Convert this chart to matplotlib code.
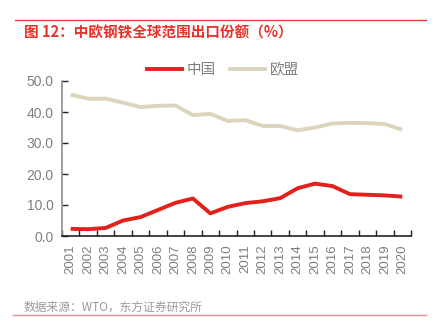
import matplotlib.pyplot as plt
from matplotlib.lines import Line2D

plt.rcParams['font.family'] = ['Noto Sans CJK SC', 'DejaVu Sans']

YEARS = [str(y) for y in range(2001, 2021)]
CHINA = [2.3, 2.2, 2.6, 5.0, 6.1, 8.4, 10.7, 12.1, 7.3, 9.4,
         10.6, 11.2, 12.2, 15.4, 16.9, 16.1, 13.5, 13.3, 13.1, 12.7]
EU = [45.6, 44.3, 44.3, 43.0, 41.6, 42.0, 42.1, 39.0, 39.4, 37.1,
      37.4, 35.5, 35.5, 34.1, 35.0, 36.3, 36.5, 36.4, 36.1, 34.3]
SERIES_NAMES = ["中国", "欧盟"]

RED = "#E3211C"
BEIGE = "#DDD4BE"
GREY = "#7F7F7F"

fig = plt.figure(figsize=(4.34, 3.36), dpi=100)
ax = fig.add_axes([62 / 434, 100 / 336, 349 / 434, 155 / 336])

x = range(len(YEARS))
ax.plot(x, CHINA, color=RED, linewidth=2.8, solid_capstyle="butt")
ax.plot(x, EU, color=BEIGE, linewidth=2.8, solid_capstyle="butt")

ax.set_xlim(-0.5, len(YEARS) - 0.5)
ax.set_ylim(0, 50)
ax.set_yticks([0, 10, 20, 30, 40, 50])
ax.set_yticklabels([f"{v:.1f}" for v in [0, 10, 20, 30, 40, 50]],
                   fontsize=10, color=GREY, family="Liberation Sans")
ax.set_xticks(list(x))
ax.set_xticklabels(YEARS, rotation=90, fontsize=9.5, color=GREY,
                   family="Liberation Sans")
ax.tick_params(axis="x", which="major", length=0, pad=6)
ax.set_xticks([i - 0.5 for i in range(len(YEARS) + 1)], minor=True)
ax.tick_params(axis="x", which="minor", direction="in", length=4,
               width=1, color="#222222")
ax.tick_params(axis="y", direction="in", length=4, width=1,
               color="#222222", pad=6)

for s in ["top", "right"]:
    ax.spines[s].set_visible(False)
ax.spines["left"].set_color("#8C8C8C")
ax.spines["left"].set_linewidth(1.2)
ax.spines["bottom"].set_color("#222222")
ax.spines["bottom"].set_linewidth(1.2)

handles = [Line2D([], [], color=RED, linewidth=2.8),
           Line2D([], [], color=BEIGE, linewidth=2.8)]
leg = fig.legend(handles, SERIES_NAMES, loc="center",
                 bbox_to_anchor=(223 / 434, 1 - 70 / 336), ncol=2,
                 frameon=False, fontsize=10.5, handlelength=2.4,
                 handletextpad=0.3, columnspacing=1.0)
for t in leg.get_texts():
    t.set_color(GREY)

# header and footer rules
fig.add_artist(Line2D([15 / 434, 426 / 434], [1 - 20 / 336, 1 - 20 / 336],
                      color="#E8413A", linewidth=1.0))
fig.add_artist(Line2D([13 / 434, 426 / 434], [1 - 315 / 336, 1 - 315 / 336],
                      color="#F08A84", linewidth=1.0))

fig.text(24 / 434, 1 - 32 / 336, "图 12：中欧钢铁全球范围出口份额（%）",
         color="#E8312A", fontsize=10.5, fontweight="bold", va="center")
fig.text(24 / 434, 1 - 307 / 336, "数据来源：WTO，东方证券研究所",
         color="#9A9A9A", fontsize=8.5, va="center")

fig.savefig("out.png", dpi=100)
